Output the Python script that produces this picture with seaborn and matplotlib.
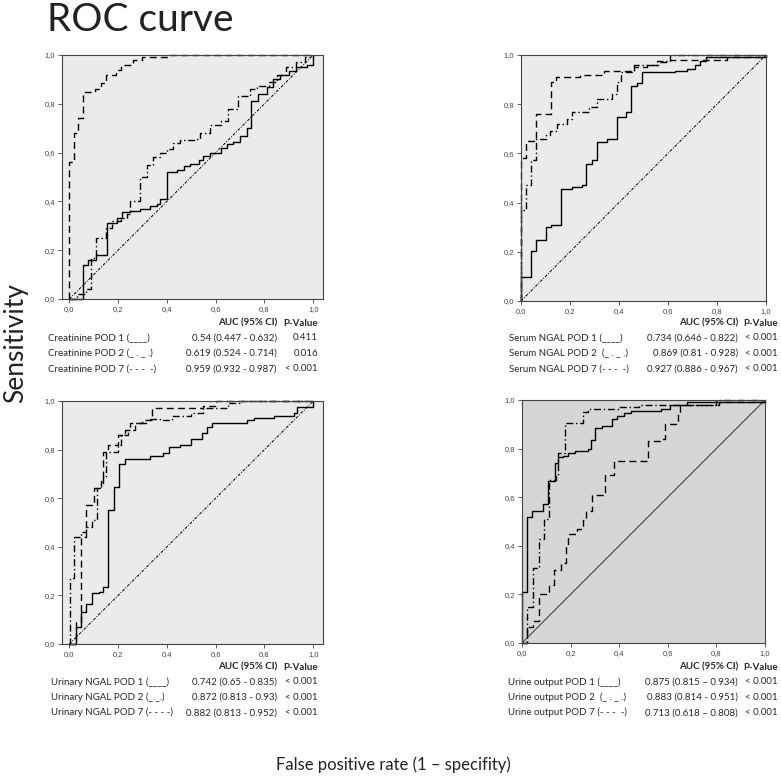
import numpy as np
import pandas as pd
import seaborn as sns
import matplotlib
matplotlib.use("Agg")
import matplotlib.pyplot as plt

# Creatinine ROC step points (fpr, tpr)
creat_pod1_fpr = [0, 0.055, 0.055, 0.078, 0.11, 0.153, 0.194, 0.214, 0.25, 0.29, 0.33, 0.36, 0.37, 0.40, 0.40, 0.44,
                  0.47, 0.495, 0.53, 0.55, 0.575, 0.62, 0.645, 0.67, 0.70, 0.727, 0.743, 0.743, 0.775, 0.81, 0.835,
                  0.865, 0.90, 0.93, 0.973, 1.0, 1.0]
creat_pod1_tpr = [0, 0.01, 0.14, 0.16, 0.18, 0.31, 0.33, 0.355, 0.36, 0.37, 0.38, 0.39, 0.41, 0.42, 0.52, 0.53,
                  0.545, 0.555, 0.57, 0.585, 0.60, 0.62, 0.635, 0.645, 0.67, 0.70, 0.73, 0.81, 0.84, 0.87, 0.90,
                  0.92, 0.935, 0.95, 0.96, 0.97, 1.0]
creat_pod2_fpr = [0, 0.03, 0.07, 0.09, 0.09, 0.11, 0.11, 0.15, 0.175, 0.21, 0.235, 0.25, 0.29, 0.29, 0.32, 0.345,
                  0.37, 0.40, 0.425, 0.455, 0.52, 0.535, 0.575, 0.62, 0.65, 0.65, 0.69, 0.69, 0.74, 0.77, 0.82,
                  0.85, 0.89, 0.93, 0.966, 1.0]
creat_pod2_tpr = [0, 0.02, 0.04, 0.07, 0.17, 0.20, 0.25, 0.29, 0.32, 0.33, 0.35, 0.40, 0.45, 0.50, 0.55, 0.58,
                  0.60, 0.615, 0.64, 0.65, 0.655, 0.68, 0.715, 0.73, 0.76, 0.78, 0.82, 0.83, 0.86, 0.875, 0.89,
                  0.92, 0.95, 0.97, 0.99, 1.0]
creat_pod7_fpr = [0, 0, 0.02, 0.037, 0.055, 0.105, 0.13, 0.15, 0.19, 0.21, 0.26, 0.30, 0.41, 1.0]
creat_pod7_tpr = [0, 0.56, 0.68, 0.74, 0.85, 0.86, 0.886, 0.918, 0.938, 0.96, 0.98, 0.99, 1.0, 1.0]

# Serum NGAL
serum_pod1_fpr = [0, 0, 0.042, 0.061, 0.103, 0.122, 0.165, 0.208, 0.249, 0.267, 0.29, 0.31, 0.35, 0.39, 0.43,
                  0.45, 0.473, 0.494, 0.63, 0.677, 0.71, 0.73, 0.756, 1.0]
serum_pod1_tpr = [0, 0.098, 0.205, 0.25, 0.30, 0.31, 0.455, 0.465, 0.47, 0.555, 0.575, 0.645, 0.66, 0.75, 0.77,
                  0.875, 0.885, 0.93, 0.935, 0.945, 0.96, 0.975, 0.99, 1.0]
serum_pod2_fpr = [0, 0, 0.02, 0.04, 0.061, 0.10, 0.12, 0.147, 0.188, 0.208, 0.276, 0.31, 0.37, 0.39, 0.41, 0.46,
                  0.555, 0.61, 1.0]
serum_pod2_tpr = [0, 0.37, 0.47, 0.573, 0.66, 0.675, 0.69, 0.72, 0.74, 0.77, 0.79, 0.82, 0.84, 0.89, 0.93, 0.96,
                  0.975, 1.0, 1.0]
serum_pod7_fpr = [0, 0, 0.02, 0.061, 0.122, 0.122, 0.144, 0.242, 0.337, 0.46, 0.514, 0.56, 0.61, 0.73, 0.84, 1.0]
serum_pod7_tpr = [0, 0.58, 0.65, 0.76, 0.78, 0.89, 0.91, 0.92, 0.935, 0.95, 0.96, 0.97, 0.98, 0.98, 0.99, 1.0]

# Urinary NGAL
urin_pod1_fpr = [0, 0.026, 0.048, 0.068, 0.092, 0.12, 0.14, 0.16, 0.183, 0.204, 0.23, 0.33, 0.386, 0.41, 0.455,
                 0.50, 0.545, 0.565, 0.585, 0.73, 0.756, 0.84, 0.92, 0.934, 1.0, 1.0]
urin_pod1_tpr = [0, 0.07, 0.13, 0.165, 0.21, 0.215, 0.235, 0.55, 0.645, 0.74, 0.76, 0.775, 0.785, 0.81, 0.82,
                 0.845, 0.87, 0.895, 0.91, 0.92, 0.93, 0.94, 0.95, 0.975, 0.98, 1.0]
urin_pod2_fpr = [0, 0.003, 0.02, 0.02, 0.048, 0.07, 0.092, 0.115, 0.13, 0.14, 0.15, 0.17, 0.20, 0.21, 0.24, 0.27,
                 0.32, 0.37, 0.42, 0.50, 0.55, 0.65, 0.70, 1.0]
urin_pod2_tpr = [0, 0.27, 0.30, 0.44, 0.46, 0.48, 0.51, 0.64, 0.66, 0.69, 0.79, 0.79, 0.82, 0.86, 0.88, 0.91,
                 0.925, 0.92, 0.94, 0.95, 0.97, 0.99, 1.0, 1.0]
urin_pod7_fpr = [0, 0.026, 0.048, 0.07, 0.10, 0.13, 0.14, 0.16, 0.20, 0.23, 0.25, 0.30, 0.34, 0.55, 0.60, 1.0]
urin_pod7_tpr = [0, 0.09, 0.44, 0.57, 0.64, 0.67, 0.79, 0.82, 0.86, 0.88, 0.91, 0.92, 0.97, 0.98, 1.0, 1.0]

# Urine output
uo_pod1_fpr = [0, 0, 0.02, 0.04, 0.085, 0.108, 0.136, 0.15, 0.17, 0.19, 0.218, 0.273, 0.283, 0.30, 0.33, 0.37,
               0.39, 0.42, 0.45, 0.57, 0.61, 0.68, 1.0]
uo_pod1_tpr = [0, 0.21, 0.52, 0.545, 0.57, 0.665, 0.74, 0.765, 0.77, 0.78, 0.79, 0.80, 0.835, 0.885, 0.895, 0.92,
               0.935, 0.945, 0.955, 0.965, 0.98, 0.99, 1.0]
uo_pod2_fpr = [0, 0.02, 0.02, 0.045, 0.068, 0.09, 0.11, 0.14, 0.15, 0.175, 0.25, 0.27, 0.40, 0.48, 0.65, 0.80, 1.0]
uo_pod2_tpr = [0, 0.10, 0.15, 0.31, 0.43, 0.51, 0.67, 0.69, 0.78, 0.905, 0.95, 0.965, 0.97, 0.98, 0.98, 1.0, 1.0]
uo_pod7_fpr = [0, 0.02, 0.045, 0.068, 0.11, 0.13, 0.16, 0.18, 0.19, 0.225, 0.25, 0.265, 0.29, 0.34, 0.34, 0.38,
               0.50, 0.52, 0.575, 0.59, 0.64, 0.65, 0.81, 1.0]
uo_pod7_tpr = [0, 0.065, 0.09, 0.20, 0.24, 0.30, 0.33, 0.40, 0.45, 0.47, 0.505, 0.545, 0.61, 0.645, 0.69, 0.75,
               0.75, 0.83, 0.84, 0.90, 0.95, 0.98, 0.99, 1.0]

# table text
creat_labels = ["Creatinine POD 1 (____)", "Creatinine POD 2 (_ . _ .)", "Creatinine POD 7 (- - -  -)"]
creat_auc = ["0.54 (0.447 - 0.632)", "0.619 (0.524 - 0.714)", "0.959 (0.932 - 0.987)"]
creat_p = ["0.411", "0.016", "< 0.001"]
serum_labels = ["Serum NGAL POD 1 (____)", "Serum NGAL POD 2  (_ . _ .)", "Serum NGAL POD 7 (- - -  -)"]
serum_auc = ["0.734 (0.646 - 0.822)", "0.869 (0.81 - 0.928)", "0.927 (0.886 - 0.967)"]
serum_p = ["< 0.001", "< 0.001", "< 0.001"]
urin_labels = ["Urinary NGAL POD 1 (____)", "Urinary NGAL POD 2 (_._.)", "Urinary NGAL POD 7 (- - - -)"]
urin_auc = ["0.742 (0.65 - 0.835)", "0.872 (0.813 - 0.93)", "0.882 (0.813 - 0.952)"]
urin_p = ["< 0.001", "< 0.001", "< 0.001"]
uo_labels = ["Urine output POD 1 (____)", "Urine output POD 2  (_ . _ .)", "Urine output POD 7 (- - -  -)"]
uo_auc = ["0.875 (0.815 \u2013 0.934)", "0.883 (0.814 - 0.951)", "0.713 (0.618 \u2013 0.808)"]
uo_p = ["< 0.001", "< 0.001", "< 0.001"]

W, H = 781, 782
sns.set_style("white")
plt.rcParams['font.family'] = ['Lato', 'DejaVu Sans']

fig = plt.figure(figsize=(W / 100, H / 100), dpi=100)


def rect(left, top, right, bottom):
    return [left / W, 1 - bottom / H, (right - left) / W, (bottom - top) / H]


LS_SOLID = '-'
LS_DASHDOT = (0, (5, 2, 1, 2))
LS_DASH = (0, (5, 3))


def roc_panel(r, curves, bg, xlim, diag_solid=False):
    ax = fig.add_axes(r)
    ax.set_facecolor(bg)
    if diag_solid:
        sns.lineplot(x=[0, 1], y=[0, 1], ax=ax, color='#555555', lw=0.9, estimator=None, sort=False)
    else:
        sns.lineplot(x=[0, 1], y=[0, 1], ax=ax, color='black', lw=0.7, estimator=None, sort=False,
                     linestyle=(0, (3, 1.5, 1, 1.5)))
    for (fx, ty), ls in zip(curves, [LS_SOLID, LS_DASHDOT, LS_DASH]):
        df = pd.DataFrame({"fpr": fx, "tpr": ty})
        sns.lineplot(data=df, x="fpr", y="tpr", ax=ax, color='black', lw=1.0, estimator=None,
                     sort=False, drawstyle='steps-post', linestyle=ls, clip_on=False)
    ax.set_xlim(*xlim)
    ax.set_ylim(0, 1.0)
    ticks = [0, 0.2, 0.4, 0.6, 0.8, 1.0]
    lab = [f"{t:.1f}".replace('.', ',') for t in ticks]
    ax.set_xticks(ticks, lab)
    ax.set_yticks(ticks, lab)
    ax.tick_params(direction='out', length=3, width=0.6, labelsize=5.5, colors='#444444',
                   left=True, bottom=True, pad=2)
    for t in ax.get_xticklabels() + ax.get_yticklabels():
        t.set_fontfamily('Liberation Sans')
    ax.set_xlabel("")
    ax.set_ylabel("")
    for s in ax.spines.values():
        s.set_color('#444444')
        s.set_linewidth(0.8)
    return ax


roc_panel(rect(62, 55, 323, 299),
          [(creat_pod1_fpr, creat_pod1_tpr), (creat_pod2_fpr, creat_pod2_tpr), (creat_pod7_fpr, creat_pod7_tpr)],
          '#ebebeb', (-0.03, 1.04))
roc_panel(rect(521, 55, 766, 301),
          [(serum_pod1_fpr, serum_pod1_tpr), (serum_pod2_fpr, serum_pod2_tpr), (serum_pod7_fpr, serum_pod7_tpr)],
          '#ebebeb', (0, 1.0))
roc_panel(rect(62, 401, 323, 644),
          [(urin_pod1_fpr, urin_pod1_tpr), (urin_pod2_fpr, urin_pod2_tpr), (urin_pod7_fpr, urin_pod7_tpr)],
          '#ebebeb', (-0.03, 1.04))
roc_panel(rect(522, 400, 765, 643),
          [(uo_pod1_fpr, uo_pod1_tpr), (uo_pod2_fpr, uo_pod2_tpr), (uo_pod7_fpr, uo_pod7_tpr)],
          '#d6d6d6', (0, 1.0), diag_solid=True)


def px_text(x, y, s, **kw):
    fig.text(x / W, 1 - y / H, s, **kw)


def table(x_lab, x_auc, x_p, y_head, labels, aucs, ps):
    px_text(x_auc, y_head, "AUC (95% CI)", ha='right', va='center', fontsize=7, fontweight='bold')
    px_text(x_p, y_head, "P-Value", ha='right', va='center', fontsize=7, fontweight='bold')
    for i in range(3):
        y = y_head + 15 + i * 15.3
        px_text(x_lab, y, labels[i], ha='left', va='center', fontsize=7)
        px_text(x_auc, y, aucs[i], ha='right', va='center', fontsize=7)
        px_text(x_p, y, ps[i], ha='right', va='center', fontsize=7)


table(48, 277, 318, 323, creat_labels, creat_auc, creat_p)
table(509, 738, 778, 323, serum_labels, serum_auc, serum_p)
table(51, 277, 318, 667, urin_labels, urin_auc, urin_p)
table(508, 738, 778, 667, uo_labels, uo_auc, uo_p)

px_text(47, 20, "ROC curve", ha='left', va='center', fontsize=28, color='#222222')
px_text(16, 343, "Sensitivity", ha='center', va='center', fontsize=19, rotation=90, color='#222222')
px_text(393, 765, "False positive rate (1 \u2013 specifity)", ha='center', va='center', fontsize=12,
        color='#222222')

fig.savefig("out.png", dpi=100)
